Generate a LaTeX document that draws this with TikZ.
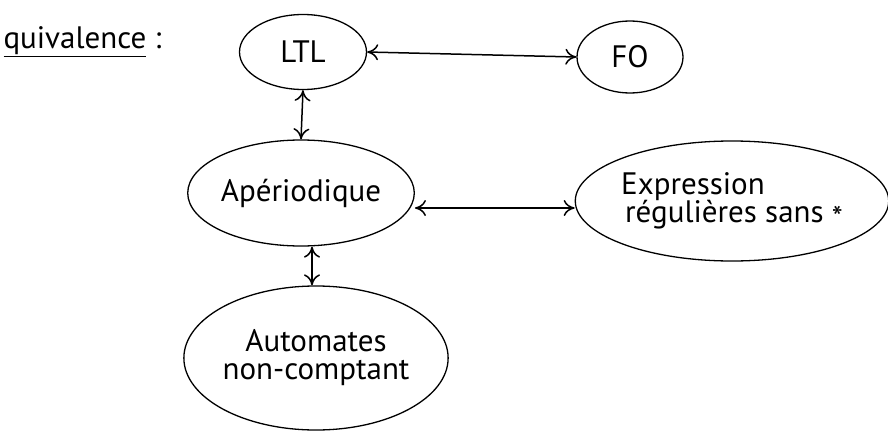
\documentclass[tikz,border=0pt]{standalone}
\usepackage{fontspec}
\setmainfont{PT Sans}
\usetikzlibrary{arrows.meta,shapes.geometric}
\begin{document}
\begin{tikzpicture}[x=1pt,y=-1pt,
  blob/.style={draw,ellipse,line width=1.3pt,inner sep=0pt,align=center},
  link/.style={line width=1.5pt,{To[length=11pt,width=16pt]}-{To[length=11pt,width=16pt]}},
  hand/.style={font=\fontsize{31}{32}\selectfont}]
  \useasboundingbox (0,0) rectangle (888,439);
  % heading
  \node[hand,anchor=west] (title) at (0,42) {\underline{quivalence} :};
  % ellipses
  \node[blob,minimum width=127pt,minimum height=75pt,hand] (ltl) at (303,52) {LTL};
  \node[blob,minimum width=106pt,minimum height=72pt,hand] (fo) at (630,57) {FO};
  \node[blob,minimum width=218pt,minimum height=106pt,hand] (aper) at (301,193) {Apériodique};
  \node[blob,minimum width=304pt,minimum height=120pt,hand,align=left] (expr) at (732,201)
    {Expression\\[-4pt]\hspace*{4pt}régulières sans \raisebox{-0.35ex}{*}};
  \node[blob,minimum width=246pt,minimum height=144pt,hand] (auto) at (316,358)
    {Automates\\[-4pt]non-comptant};
  % connectors
  \draw[link] (ltl.east) -- (fo.west);
  \draw[link] (ltl.south) -- (aper.north);
  \draw[link] (aper.east |- 0,208) -- (expr.west |- 0,208);
  \draw[link] (aper.south -| 312,0) -- (auto.north -| 312,0);
\end{tikzpicture}
\end{document}
